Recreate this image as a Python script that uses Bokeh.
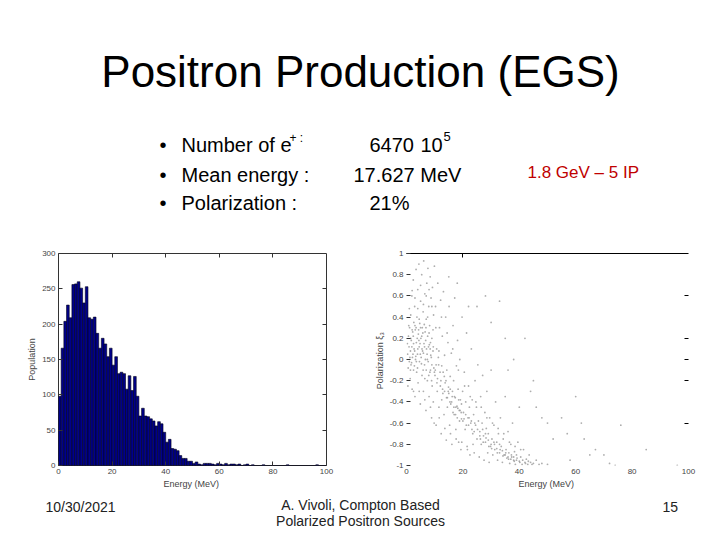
from bokeh.plotting import figure
from bokeh.models import Range1d, LinearAxis, FixedTicker
from bokeh.layouts import column, row
from bokeh.core.properties import value
from bokeh.embed import file_html
from bokeh.resources import INLINE
import numpy as np

FONT = "Liberation Sans"

# ---------------- data ----------------
# Histogram: positron counts per 1 MeV energy bin (0..100 MeV)
hist_counts = [98, 166, 204, 227, 209, 256, 257, 260, 251, 230,
               253, 209, 207, 210, 187, 166, 180, 172, 154, 166,
               142, 154, 130, 132, 130, 108, 127, 106, 126, 98,
               70, 81, 70, 69, 66, 63, 56, 62, 59, 47,
               33, 37, 24, 23, 21, 14, 10, 10, 6, 6,
               3, 5, 2, 1, 3, 3, 3, 2, 1, 3,
               2, 1, 3, 1, 2, 2, 1, 2, 0, 1,
               2, 0, 1, 0, 0, 0, 1, 0, 0, 0,
               0, 0, 0, 0, 0, 1, 0, 0, 0, 0,
               0, 0, 0, 0, 0, 0, 1, 0, 0, 0]
hist_xticks = [0, 20, 40, 60, 80, 100]
hist_yticks = [0, 50, 100, 150, 200, 250, 300]

# Scatter: (energy MeV, polarization)
cloud_low_e = [(0.4, 0.05), (0.6, -0.08), (0.7, 0.22), (0.9, 0.12), (1.0, -0.02), (1.1, 0.30), (1.3, -0.18),
               (1.4, 0.08), (1.5, 0.42), (1.6, -0.05), (1.7, 0.18), (1.9, 0.60), (2.0, -0.28), (2.1, 0.02),
               (2.2, 0.26), (2.4, 0.75), (2.5, -0.10), (2.6, 0.35), (2.7, 0.10), (2.9, 0.50), (3.0, -0.35),
               (3.1, 0.28), (3.2, 0.00), (3.4, 0.85), (3.5, 0.16), (3.6, -0.12), (3.7, 0.40), (3.9, 0.05),
               (4.0, 0.66), (4.1, -0.22), (4.2, 0.24), (4.4, 0.90), (4.5, 0.12), (4.6, -0.02), (4.7, 0.34),
               (4.9, -0.42), (5.0, 0.55), (5.1, 0.20), (5.2, 0.02), (5.4, 0.80), (5.5, -0.15), (5.6, 0.30),
               (5.7, 0.08), (5.9, 0.45), (6.0, -0.30), (6.1, 0.93), (6.2, 0.15), (6.4, -0.05), (6.5, 0.62),
               (6.6, 0.26), (6.7, 0.00), (6.9, -0.48), (7.0, 0.38), (7.1, 0.10), (7.2, 0.72), (7.4, -0.20),
               (7.5, 0.22), (7.6, 0.86), (7.7, -0.02), (7.9, 0.50), (8.0, -0.35), (8.1, 0.14), (8.2, 0.32),
               (8.4, 0.78), (8.5, -0.10), (8.6, 0.04), (8.7, 0.58), (8.9, -0.55), (9.0, 0.20), (9.1, -0.25),
               (9.2, 0.68), (9.4, 0.08), (9.5, -0.40), (9.6, 0.42), (9.7, -0.08), (9.9, 0.88),
               (1.2, 0.02), (1.8, -0.03), (2.3, 0.05), (2.8, -0.06), (3.3, 0.03), (3.8, 0.20), (4.3, 0.28),
               (4.8, 0.15), (5.3, -0.04), (5.8, 0.25), (6.3, 0.33), (6.8, 0.18), (7.3, 0.05), (7.8, 0.12),
               (8.3, -0.12), (8.8, 0.02), (2.0, 0.28), (3.0, 0.32), (4.0, 0.10), (5.0, 0.30), (6.0, 0.06),
               (7.0, -0.10), (8.0, 0.25), (9.0, -0.05), (1.5, 0.20), (2.5, 0.15), (3.5, -0.02), (4.5, 0.38),
               (5.5, 0.10), (6.5, -0.18), (7.5, 0.40), (8.5, 0.16), (9.5, 0.12),
               (0.3, 0.15), (0.8, 0.32), (1.4, -0.10), (1.9, 0.12), (2.4, 0.22), (2.9, 0.08), (3.4, 0.30),
               (3.9, -0.08), (4.4, 0.18), (4.9, 0.05), (5.4, 0.22), (5.9, -0.10), (6.4, 0.12), (6.9, 0.30),
               (7.4, 0.00), (7.9, -0.15), (8.4, 0.10), (8.9, -0.20), (9.4, 0.28), (9.9, -0.12),
               (0.5, -0.25), (1.0, 0.48), (2.0, 0.65), (3.0, 0.58), (4.0, 0.48), (5.0, 0.70), (6.0, 0.52),
               (7.0, 0.60), (8.0, 0.66), (9.0, 0.50), (2.5, -0.30), (4.5, -0.30), (6.5, -0.38), (8.5, -0.45),
               (9.8, -0.60)]
cloud_mid_e = [(10.1, -0.15), (10.3, 0.50), (10.5, -0.62), (10.7, 0.10), (10.9, -0.30), (11.1, 0.72), (11.3, 0.02),
               (11.5, -0.45), (11.7, 0.30), (11.9, -0.12), (12.1, 0.56), (12.3, -0.70), (12.5, -0.06), (12.7, 0.22),
               (12.9, -0.32), (13.1, 0.64), (13.3, -0.52), (13.5, 0.04), (13.7, -0.22), (13.9, 0.40), (14.1, -0.76),
               (14.3, -0.10), (14.5, -0.36), (14.7, 0.16), (14.9, -0.26), (15.1, 0.50), (15.3, -0.62), (15.5, -0.16),
               (15.7, -0.42), (15.9, 0.06), (16.1, -0.80), (16.3, -0.30), (16.5, 0.32), (16.7, -0.20), (16.9, -0.52),
               (17.1, 0.58), (17.3, -0.36), (17.5, -0.66), (17.7, -0.06), (17.9, -0.44), (18.1, 0.18), (18.3, -0.28),
               (18.5, -0.78), (18.7, -0.48), (18.9, 0.00), (19.1, -0.38), (19.3, -0.85), (19.5, -0.56), (19.7, 0.40),
               (19.9, -0.30), (20.2, -0.50), (20.5, -0.12), (20.8, -0.66), (21.0, -0.40), (21.3, 0.25), (21.5, -0.82),
               (21.8, -0.55), (22.0, -0.25), (22.3, -0.45), (22.5, -0.90), (22.8, -0.60), (23.0, 0.10), (23.3, -0.38),
               (23.5, -0.70), (23.8, -0.52), (24.0, -0.88), (24.3, -0.20), (24.5, -0.62), (24.8, -0.45),
               (10.5, -0.05), (11.0, -0.18), (11.5, 0.08), (12.0, -0.25), (12.5, -0.38), (13.0, -0.12), (13.5, -0.30),
               (14.0, -0.20), (14.5, -0.45), (15.0, -0.32), (15.5, -0.28), (16.0, -0.40), (16.5, -0.50), (17.0, -0.35),
               (17.5, -0.45), (18.0, -0.55), (18.5, -0.38), (19.0, -0.48), (19.5, -0.42), (20.0, -0.58), (21.0, -0.52),
               (22.0, -0.62), (23.0, -0.58), (24.0, -0.68),
               (10.2, -0.10), (10.8, -0.22), (11.4, -0.05), (12.2, -0.20), (12.8, -0.28), (13.4, -0.16), (14.2, -0.36),
               (14.8, -0.30), (15.4, -0.40), (16.2, -0.35), (16.8, -0.45), (17.4, -0.52), (18.2, -0.46), (18.8, -0.58),
               (19.4, -0.50), (20.4, -0.56), (21.2, -0.62), (22.2, -0.55), (23.2, -0.66), (24.2, -0.60),
               (10.4, 0.30), (12.4, 0.40), (14.4, 0.25), (16.4, 0.10), (18.4, -0.10), (20.6, -0.25), (22.6, -0.35),
               (24.6, -0.40), (11.6, -0.55), (13.6, -0.65), (15.6, -0.70), (17.6, -0.75), (19.6, -0.78), (21.6, -0.85),
               (23.6, -0.80)]
cloud_high_e = [(25.0, -0.75), (25.3, -0.05), (25.5, -0.58), (25.8, -0.92), (26.0, -0.68), (26.3, -0.35), (26.5, -0.80),
                (26.8, -0.60), (27.0, -0.15), (27.3, -0.72), (27.5, -0.95), (27.8, -0.50), (28.0, -0.78), (28.3, -0.65),
                (28.5, -0.30), (28.8, -0.88), (29.0, -0.70), (29.3, -0.97), (29.5, -0.55), (29.8, -0.82), (30.0, -0.10),
                (30.3, -0.75), (30.6, -0.90), (31.0, -0.62), (31.3, -0.85), (31.6, -0.40), (32.0, -0.78), (32.3, -0.95),
                (32.6, -0.70), (33.0, -0.88), (33.3, -0.55), (33.6, -0.82), (34.0, -0.97), (34.3, -0.75), (34.6, -0.90),
                (35.0, -0.35), (35.3, -0.85), (35.6, -0.93), (36.0, -0.68), (36.3, -0.88), (36.6, -0.98), (37.0, -0.80),
                (37.3, -0.92), (37.6, -0.60), (38.0, -0.95), (38.3, -0.87), (38.6, -0.99), (39.0, -0.90), (39.5, -0.78),
                (40.0, -0.96), (40.5, -0.92), (41.0, -0.99), (41.5, -0.85), (42.0, -0.97), (42.5, -0.94), (43.0, -0.99),
                (43.5, -0.90), (44.0, -0.97), (45.0, -0.98), (46.0, -0.95), (47.0, -0.99), (48.0, -0.98), (50.0, -0.99),
                (26.0, -0.72), (27.0, -0.66), (28.0, -0.70), (29.0, -0.76), (30.0, -0.80), (31.0, -0.78), (32.0, -0.84),
                (33.0, -0.80), (34.0, -0.86), (35.0, -0.90), (36.0, -0.92), (37.0, -0.94), (38.0, -0.92), (39.0, -0.95),
                (25.2, -0.66), (26.2, -0.75), (27.2, -0.78), (28.2, -0.74), (29.2, -0.82), (30.2, -0.84), (31.2, -0.80),
                (32.2, -0.88), (33.2, -0.85), (34.2, -0.91), (35.2, -0.88), (36.2, -0.94), (37.2, -0.90), (38.2, -0.96),
                (39.2, -0.93), (40.2, -0.97), (41.2, -0.95), (42.2, -0.98), (43.2, -0.96), (44.5, -0.99),
                (26.5, -0.45), (28.5, -0.55), (30.5, -0.60), (32.5, -0.65), (34.5, -0.70), (36.5, -0.78), (38.5, -0.82),
                (40.5, -0.85)]
cloud_outliers = [(15.0, 0.78), (18.0, 0.72), (22.0, 0.50), (25.0, 0.50), (28.0, 0.60), (30.0, 0.35), (33.0, 0.55),
                  (35.0, 0.20), (36.0, -0.10), (38.0, 0.00), (40.0, -0.45), (42.0, 0.20), (44.0, -0.30), (45.0, -0.20),
                  (46.0, -0.45), (48.0, -0.55), (50.0, -0.60), (52.0, -0.75), (55.0, -0.55), (57.0, -0.70), (58.0, -0.95),
                  (60.0, -0.35), (62.0, -0.60), (63.0, -0.75), (65.0, -0.90), (67.0, -0.85), (70.0, -0.90), (72.0, -0.98),
                  (74.0, -1.00), (76.0, -0.62), (85.0, -0.85), (96.0, -1.00)]
scat_xticks = [0, 20, 40, 60, 80, 100]
scat_yticks = [-1, -0.8, -0.6, -0.4, -0.2, 0, 0.2, 0.4, 0.6, 0.8, 1]
scat_ylabels = ["-1", "-0.8", "-0.6", "-0.4", "-0.2", "0", "0.2", "0.4", "0.6", "0.8", "1"]

# Slide texts
title_text = "Positron Production (EGS)"
bullet_labels = ["Number of e", "Mean energy :", "Polarization :"]
bullet_values = ["6470", "17.627 MeV", "21%"]
red_note = "1.8 GeV \u2013 5 IP"
footer_date = "10/30/2021"
footer_author = ["A. Vivoli, Compton Based", "Polarized Positron Sources"]
footer_page = "15"

W = 712


def text_fig(w, h, y0, y1):
    f = figure(width=w, height=h, x_range=Range1d(0, w), y_range=Range1d(y1, y0),
               output_backend="svg", toolbar_location=None, title=None,
               x_axis_location=None, y_axis_location=None, min_border=0)
    f.grid.visible = False
    f.outline_line_color = None
    f.background_fill_color = "white"
    f.border_fill_color = "white"
    return f


def put(f, x, y, s, size, align="left", color="black", baseline="alphabetic"):
    f.text(x=[x], y=[y], text=[s], text_font=value(FONT), text_font_size=size,
           text_align=align, text_baseline=baseline, text_color=color)


def blank_labels(ticks):
    return {t: "" for t in ticks}


# ---------------- top area (title + bullets) ----------------
top = text_fig(W, 243, 0, 243)
put(top, 360, 71, title_text, "44px", align="center")
row_base = [144, 174, 202]
for yb, lab, val, vx in zip(row_base, bullet_labels, bullet_values, [369, 353, 369]):
    put(top, 159, yb, "\u2022", "20px")
    put(top, 181, yb, lab, "20px")
    put(top, vx, yb, val, "20px")
put(top, 289, 137, "+ :", "12px")
put(top, 420, 144, "10", "20px")
put(top, 443, 136, "5", "13px")
put(top, 527, 172, red_note, "17px", color="#c00000")

# ---------------- histogram ----------------
edges = np.arange(len(hist_counts) + 1)
hist = figure(width=345, height=252, x_range=Range1d(0, 100), y_range=Range1d(0, 300),
              output_backend="svg", toolbar_location=None, title=None,
              min_border_left=58, min_border_right=19, min_border_top=9, min_border_bottom=30)
hist.quad(left=edges[:-1], right=edges[1:], bottom=0, top=hist_counts,
          fill_color="#00008a", line_color="#000018", line_width=0.6)
hist.grid.visible = False
hist.outline_line_color = "#333333"
hist.background_fill_color = "white"
hist.border_fill_color = "white"
hist.xaxis.ticker = FixedTicker(ticks=hist_xticks)
hist.yaxis.ticker = FixedTicker(ticks=hist_yticks)
hist.xaxis.axis_label = "Energy  (MeV)"
hist.yaxis.axis_label = "Population"
for ax in [hist.xaxis[0], hist.yaxis[0]]:
    ax.major_tick_in = 4
    ax.major_tick_out = 0
    ax.minor_tick_line_color = None
    ax.axis_line_color = None
    ax.major_tick_line_color = "#333333"
    ax.major_label_text_font = FONT
    ax.major_label_text_font_size = "8px"
    ax.major_label_text_color = "#444444"
    ax.axis_label_text_font = FONT
    ax.axis_label_text_font_size = "9px"
    ax.axis_label_text_font_style = "normal"
    ax.axis_label_text_color = "#444444"
    ax.major_label_standoff = 3
    ax.axis_label_standoff = 2
hist_top = LinearAxis(ticker=FixedTicker(ticks=hist_xticks[1:-1]),
                      major_label_overrides=blank_labels(hist_xticks[1:-1]),
                      major_tick_in=4, major_tick_out=0, axis_line_color=None, minor_tick_line_color=None,
                      major_tick_line_color="#333333", major_label_standoff=0)
hist.add_layout(hist_top, "above")
hist_right = LinearAxis(ticker=FixedTicker(ticks=hist_yticks[1:-1]),
                        major_label_overrides=blank_labels(hist_yticks[1:-1]),
                        major_tick_in=4, major_tick_out=0, axis_line_color=None, minor_tick_line_color=None,
                        major_tick_line_color="#333333", major_label_standoff=0)
hist.add_layout(hist_right, "right")

# ---------------- scatter ----------------
pts = cloud_low_e + cloud_mid_e + cloud_high_e + cloud_outliers
sx = [p[0] for p in pts]
sy = [p[1] for p in pts]
scat = figure(width=W - 345, height=252, x_range=Range1d(0, 100), y_range=Range1d(-1, 1),
              output_backend="svg", toolbar_location=None, title=None,
              min_border_left=61, min_border_right=24, min_border_top=10, min_border_bottom=27)
scat.scatter(sx, sy, size=1.8, marker="circle", fill_color="#939393", line_color=None, fill_alpha=0.75)
scat.grid.visible = False
scat.outline_line_color = None
scat.background_fill_color = "white"
scat.border_fill_color = "white"
scat.xaxis.ticker = FixedTicker(ticks=scat_xticks)
scat.yaxis.ticker = FixedTicker(ticks=scat_yticks)
scat.yaxis.major_label_overrides = {t: s for t, s in zip(scat_yticks, scat_ylabels)}
scat.xaxis.axis_label = "Energy  (MeV)"
scat.yaxis.axis_label = "Polarization  \u03be\u2083"
for ax in [scat.xaxis[0], scat.yaxis[0]]:
    ax.major_tick_out = 0
    ax.minor_tick_line_color = None
    ax.axis_line_color = None
    ax.major_tick_line_color = "#333333"
    ax.major_label_text_font = FONT
    ax.major_label_text_font_size = "8px"
    ax.major_label_text_color = "#444444"
    ax.axis_label_text_font = FONT
    ax.axis_label_text_font_size = "9px"
    ax.axis_label_text_font_style = "normal"
    ax.axis_label_text_color = "#444444"
    ax.major_label_standoff = 3
    ax.axis_label_standoff = 2
scat.yaxis.major_tick_in = 4
scat.xaxis.major_tick_in = 0
scat_top = LinearAxis(ticker=FixedTicker(ticks=[20]), major_label_overrides=blank_labels([20]),
                      major_tick_in=4, major_tick_out=0, axis_line_color="black", axis_line_width=1.2,
                      minor_tick_line_color=None, major_tick_line_color="black", major_label_standoff=0)
scat.add_layout(scat_top, "above")
right_ticks = [0.6, 0.2, 0, -0.2, -0.6]
scat_right = LinearAxis(ticker=FixedTicker(ticks=right_ticks), major_label_overrides=blank_labels(right_ticks),
                        major_tick_in=4, major_tick_out=0, axis_line_color=None, minor_tick_line_color=None,
                        major_tick_line_color="black", major_label_standoff=0)
scat.add_layout(scat_right, "right")

# ---------------- footer ----------------
foot = text_fig(W, 37, 495, 532)
put(foot, 45, 506, footer_date, "14px", color="#222222")
put(foot, 360, 504, footer_author[0], "14px", align="center", color="#222222")
put(foot, 360, 520, footer_author[1], "14px", align="center", color="#222222")
put(foot, 662, 506, footer_page, "14px", color="#222222")

layout = column(top, row(hist, scat, spacing=0), foot, spacing=0)
open("out.html", "w").write(file_html(layout, INLINE))
